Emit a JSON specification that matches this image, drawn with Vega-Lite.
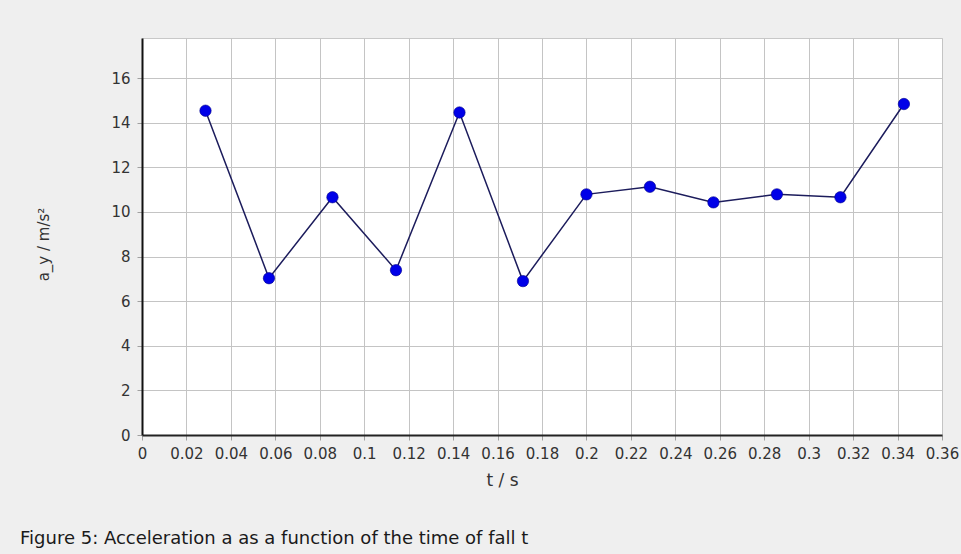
{
  "$schema": "https://vega.github.io/schema/vega-lite/v6.json",
  "width": 800,
  "height": 397,
  "autosize": {"type": "none"},
  "padding": {"left": 142, "top": 38, "right": 19, "bottom": 119},
  "background": "#efefef",
  "title": {
    "text": "Figure 5: Acceleration a as a function of the time of fall t",
    "orient": "bottom",
    "anchor": "start",
    "frame": "group",
    "dx": -122,
    "offset": 42,
    "font": "DejaVu Sans",
    "fontSize": 18,
    "fontWeight": "normal",
    "color": "#1a1a1a"
  },
  "config": {
    "view": {"fill": "#ffffff", "stroke": "#c8c8c8", "strokeWidth": 1},
    "font": "DejaVu Sans"
  },
  "data": {
    "values": [
      {"t": 0.02857, "a": 14.54},
      {"t": 0.05714, "a": 7.03},
      {"t": 0.08571, "a": 10.66},
      {"t": 0.11429, "a": 7.39},
      {"t": 0.14286, "a": 14.46},
      {"t": 0.17143, "a": 6.9},
      {"t": 0.2, "a": 10.79},
      {"t": 0.22857, "a": 11.13},
      {"t": 0.25714, "a": 10.43},
      {"t": 0.28571, "a": 10.79},
      {"t": 0.31429, "a": 10.66},
      {"t": 0.34286, "a": 14.84}
    ]
  },
  "encoding": {
    "x": {
      "field": "t",
      "type": "quantitative",
      "scale": {"domain": [0, 0.36], "nice": false, "zero": true},
      "axis": {
        "title": "t / s",
        "values": [0, 0.02, 0.04, 0.06, 0.08, 0.1, 0.12, 0.14, 0.16, 0.18, 0.2, 0.22, 0.24, 0.26, 0.28, 0.3, 0.32, 0.34, 0.36],
        "format": "~g",
        "labelFont": "DejaVu Sans",
        "labelFontSize": 15,
        "labelColor": "#333333",
        "labelPadding": 6,
        "labelOverlap": false,
        "labelFlush": false,
        "tickSize": 5,
        "tickColor": "#a0a0a0",
        "domainColor": "#222222",
        "domainWidth": 2,
        "grid": true,
        "gridColor": "#c4c4c4",
        "gridWidth": 1,
        "titleFont": "DejaVu Sans",
        "titleFontSize": 17,
        "titleFontWeight": "normal",
        "titleColor": "#333333",
        "titleX": 360,
        "titleY": 45,
        "titleBaseline": "middle",
        "titleAlign": "center"
      }
    },
    "y": {
      "field": "a",
      "type": "quantitative",
      "scale": {"domain": [0, 17.8], "nice": false},
      "axis": {
        "title": "a_y / m/s²",
        "values": [0, 2, 4, 6, 8, 10, 12, 14, 16],
        "labelFont": "DejaVu Sans",
        "labelFontSize": 15,
        "labelColor": "#333333",
        "labelPadding": 7,
        "tickSize": 5,
        "tickColor": "#a0a0a0",
        "domainColor": "#111111",
        "domainWidth": 2,
        "grid": true,
        "gridColor": "#c4c4c4",
        "gridWidth": 1,
        "titleFont": "DejaVu Sans",
        "titleFontSize": 15,
        "titleFontWeight": "normal",
        "titleColor": "#333333",
        "titleX": -99,
        "titleY": 206,
        "titleBaseline": "middle",
        "titleAlign": "center",
        "titleAngle": -90
      }
    }
  },
  "layer": [
    {"mark": {"type": "line", "color": "#1c1c5c", "strokeWidth": 1.5}},
    {"mark": {"type": "point", "filled": true, "size": 130, "color": "#0000e8", "opacity": 1, "stroke": "#00008a", "strokeWidth": 0.6}}
  ]
}
